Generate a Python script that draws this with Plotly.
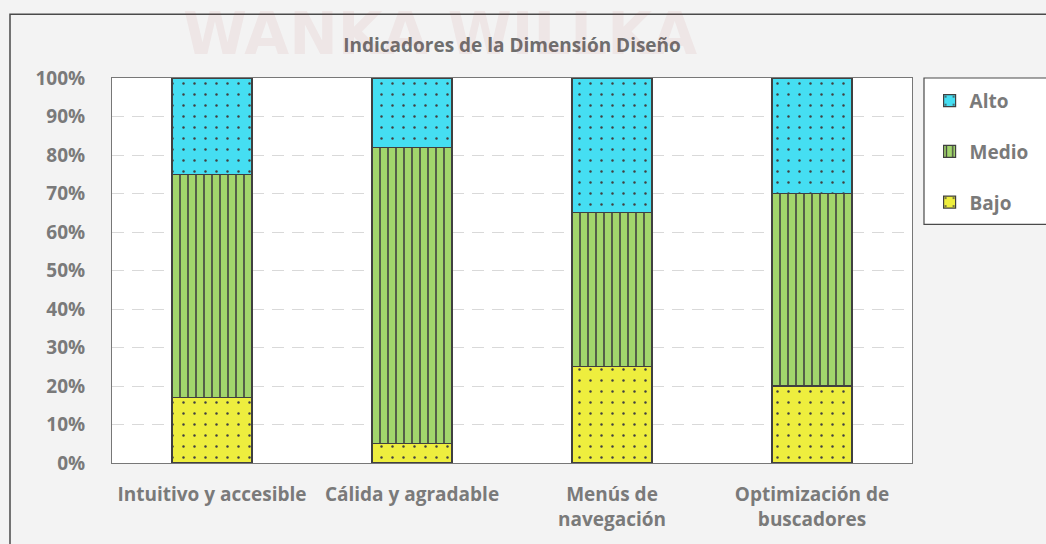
import plotly.graph_objects as go

# Indicator categories (x axis) and share of responses per level
categories = [
    "Intuitivo y accesible",
    "Cálida y agradable",
    "Menús de<br>navegación",
    "Optimización de<br>buscadores",
]
bajo = [0.17, 0.05, 0.25, 0.20]
medio = [0.58, 0.77, 0.40, 0.50]
alto = [0.25, 0.18, 0.35, 0.30]

y_ticks = [i / 10 for i in range(11)]

FONT = "Open Sans"
TEXT_GRAY = "#7a7a7a"
EDGE = "#404040"

# (name, values, fill, pattern, legend position)
series = [
    ("Bajo", bajo, "#eeee3e", dict(shape=".", size=11, solidity=0.04), 3),
    ("Medio", medio, "#a2d56c", dict(shape="|", size=8, solidity=0.2), 2),
    ("Alto", alto, "#45def2", dict(shape=".", size=11, solidity=0.04), 1),
]

fig = go.Figure()
for name, vals, color, pat, rank in series:
    fig.add_trace(
        go.Bar(
            x=categories,
            y=vals,
            name=name,
            legendgroup=name,
            legendrank=rank,
            marker=dict(
                color=color,
                line=dict(color=EDGE, width=1.2),
                pattern=dict(fgcolor=EDGE, bgcolor=color, fgopacity=1, **pat),
            ),
        )
    )

fig.update_layout(
    width=1046,
    height=544,
    barmode="stack",
    bargap=0.6,
    margin=dict(l=112, r=134, t=78, b=79),
    paper_bgcolor="#f3f3f3",
    plot_bgcolor="#ffffff",
    font=dict(family=FONT, color=TEXT_GRAY, size=19, weight="bold"),
    title=dict(
        text="Indicadores de la Dimensión Diseño",
        x=0.5,
        xanchor="center",
        xref="paper",
        y=1 - 45 / 544,
        yanchor="middle",
        font=dict(family=FONT, size=19, color="#6e6e6e", weight="bold"),
    ),
    showlegend=True,
    legend=dict(
        x=1.022,
        y=0.99,
        xanchor="left",
        yanchor="top",
        traceorder="grouped",
        tracegroupgap=23,
        bgcolor="rgba(0,0,0,0)",
        font=dict(family=FONT, size=19, color=TEXT_GRAY, weight="bold"),
        itemwidth=30,
    ),
)

fig.update_yaxes(
    range=[0, 1],
    tickvals=y_ticks,
    tickformat=".0%",
    showgrid=True,
    gridcolor="#d9d9d9",
    griddash="12px,8px",
    gridwidth=1,
    showline=True,
    mirror=True,
    linecolor="#777777",
    linewidth=1,
    zeroline=False,
    ticks="",
    ticklabelstandoff=22,
    tickfont=dict(family=FONT, size=19, color=TEXT_GRAY, weight="bold"),
)
fig.update_xaxes(
    showline=True,
    mirror=True,
    linecolor="#777777",
    linewidth=1,
    ticks="",
    ticklabelstandoff=14,
    tickfont=dict(family=FONT, size=19, color=TEXT_GRAY, weight="bold"),
)

# Outer chart frame
fig.add_shape(
    type="rect", xref="paper", yref="paper",
    x0=-0.1275, x1=1.5, y0=-0.5, y1=1.1654,
    line=dict(color="#4a4a4a", width=1.5),
    fillcolor="rgba(0,0,0,0)", layer="below",
)
# Legend box
fig.add_shape(
    type="rect", xref="paper", yref="paper",
    x0=1.015, x1=1.5, y0=0.620, y1=1.0,
    line=dict(color="#4a4a4a", width=1.2),
    fillcolor="#ffffff", layer="above",
)

# Faint institutional watermark behind the title
fig.add_annotation(
    text="WANKA WILLKA",
    xref="paper", yref="paper",
    x=(440 - 112) / 800, y=(465 - 34) / 387,
    xanchor="center", yanchor="middle",
    showarrow=False,
    font=dict(family="DejaVu Sans", size=58, color="rgba(190,70,70,0.07)", weight="bold"),
)

fig.write_html("out.html")
